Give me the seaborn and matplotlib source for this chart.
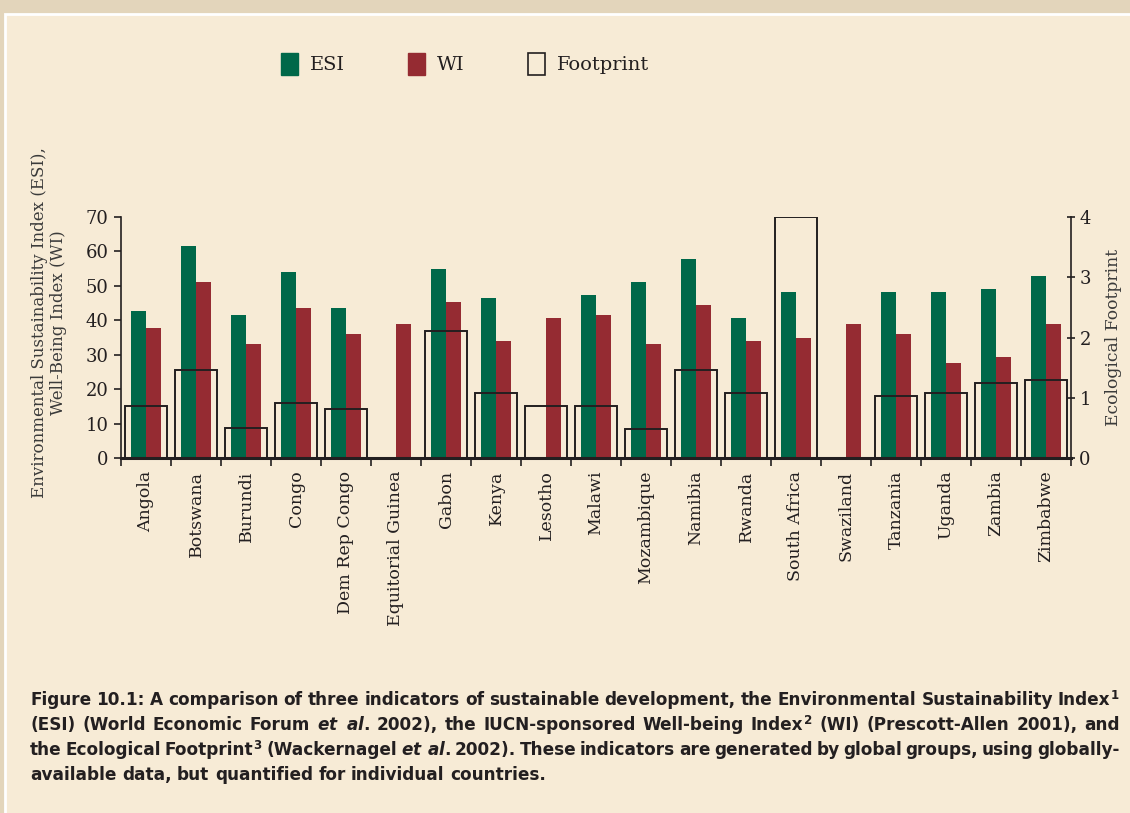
import numpy as np
import pandas as pd
import matplotlib
matplotlib.use("Agg")
import matplotlib.pyplot as plt
from matplotlib.patches import Patch, Rectangle
import seaborn as sns

# --- Data ---
countries = ["Angola", "Botswana", "Burundi", "Congo", "Dem Rep Congo",
             "Equitorial Guinea", "Gabon", "Kenya", "Lesotho", "Malawi",
             "Mozambique", "Namibia", "Rwanda", "South Africa", "Swaziland",
             "Tanzania", "Uganda", "Zambia", "Zimbabwe"]
esi = [42.7, 61.5, 41.4, 53.9, 43.5, np.nan, 54.8, 46.4, np.nan, 47.2,
       51.0, 57.7, 40.6, 48.1, np.nan, 48.1, 48.1, 49.0, 52.8]
wi = [37.7, 51.0, 33.0, 43.5, 35.9, 38.8, 45.2, 33.9, 40.6, 41.4,
      33.0, 44.3, 33.9, 35.0, 38.8, 35.9, 27.5, 29.2, 38.8]
footprint = [0.86, 1.46, 0.49, 0.92, 0.81, np.nan, 2.10, 1.08, 0.86, 0.86,
             0.48, 1.46, 1.08, 4.0, np.nan, 1.03, 1.08, 1.24, 1.29]

# caption words are split on spaces, so italic "et al." is two math words
caption = [
    r"Figure 10.1: A comparison of three indicators of sustainable development, the Environmental Sustainability Index$^{1}$",
    r"(ESI) (World Economic Forum $\mathit{et}$ $\mathit{al.}$ 2002), the IUCN-sponsored Well-being Index$^{2}$ (WI) (Prescott-Allen 2001), and",
    r"the Ecological Footprint$^{3}$ (Wackernagel $\mathit{et}$ $\mathit{al.}$ 2002). These indicators are generated by global groups, using globally-",
    r"available data, but quantified for individual countries.",
]

# --- Style ---
ESI_COLOR = "#006849"
WI_COLOR = "#952b32"
PANEL = "#f7ebd6"
OUTER = "#e3d5bb"
INK = "#231f20"
CAP_FONT = "DejaVu Sans"

sns.set_style("ticks")
plt.rcParams['font.family'] = ['DejaVu Serif']
plt.rcParams['mathtext.fontset'] = 'custom'
plt.rcParams['mathtext.rm'] = CAP_FONT + ':bold'
plt.rcParams['mathtext.it'] = CAP_FONT + ':bold:italic'
plt.rcParams['mathtext.bf'] = CAP_FONT + ':bold'
plt.rcParams['text.color'] = INK
plt.rcParams['axes.edgecolor'] = INK
plt.rcParams['xtick.color'] = INK
plt.rcParams['ytick.color'] = INK

W, H = 1130, 813
fig = plt.figure(figsize=(W / 100, H / 100), dpi=100, facecolor=OUTER)
fig.patches.append(Rectangle((5 / W, -0.01), 1.0, 1 - 14 / H + 0.01,
                             transform=fig.transFigure, facecolor=PANEL,
                             edgecolor="white", lw=2, zorder=-5))

ax = fig.add_axes([121 / W, 1 - 458 / H, 950 / W, 241 / H])
ax.set_facecolor("none")

# ESI / WI bars
df = pd.DataFrame({"country": countries, "ESI": esi, "WI": wi})
long = df.melt(id_vars="country", var_name="index", value_name="value").dropna()
sns.barplot(data=long, x="country", y="value", hue="index", order=countries,
            hue_order=["ESI", "WI"], palette=[ESI_COLOR, WI_COLOR],
            saturation=1, width=0.6, legend=False, ax=ax, errorbar=None,
            linewidth=0)
ax.set_ylim(0, 70)
ax.set_yticks(range(0, 71, 10))

# Footprint outlined boxes on secondary axis
ax2 = ax.twinx()
ax2.set_facecolor("none")
fp = pd.DataFrame({"country": countries, "footprint": footprint}).dropna()
sns.barplot(data=fp, x="country", y="footprint", order=countries, fill=False,
            color=INK, linewidth=1.4, width=0.83, ax=ax2, errorbar=None)
ax2.set_ylim(0, 4)
ax2.set_yticks(range(0, 5))

# x ticks at category boundaries, labels at centres
n = len(countries)
ax.set_xlim(-0.5, n - 0.5)
ax.set_xticks(np.arange(n + 1) - 0.5)
ax.set_xticklabels([])
ax.set_xticks(np.arange(n), minor=True)
ax.set_xticklabels(countries, minor=True, rotation=90, fontsize=12.5)
ax.tick_params(axis="x", which="major", length=6, width=1.2, direction="out")
ax.tick_params(axis="x", which="minor", length=0, pad=9)
ax.tick_params(axis="y", length=5, width=1.2, labelsize=13, pad=4)
ax2.tick_params(axis="y", length=6, width=1.2, labelsize=13, pad=3, direction="inout")

ax.set_xlabel("")
ax2.set_xlabel("")
ax.set_ylabel("Environmental Sustainability Index (ESI),\nWell-Being Index (WI)",
              fontsize=12, color="#3a3a3a", linespacing=1.15)
ax.yaxis.set_label_coords(-0.057, 0.56)
ax2.set_ylabel("Ecological Footprint", fontsize=12.3, color="#3a3a3a", labelpad=10)

for a in (ax, ax2):
    a.spines["top"].set_visible(False)
ax.spines["right"].set_visible(False)
ax2.spines["left"].set_visible(False)
ax2.spines["bottom"].set_visible(False)
ax.spines["bottom"].set_linewidth(2.2)
ax.spines["left"].set_linewidth(1.2)
ax2.spines["right"].set_linewidth(1.2)

# Legend at top
handles = [Patch(facecolor=ESI_COLOR, edgecolor=ESI_COLOR, label="ESI"),
           Patch(facecolor=WI_COLOR, edgecolor=WI_COLOR, label="WI"),
           Patch(facecolor="none", edgecolor=INK, linewidth=1.2, label="Footprint")]
fig.legend(handles=handles, loc="center left", bbox_to_anchor=(263 / W, 1 - 64 / H),
           ncol=3, frameon=False, fontsize=14, handlelength=0.9, handleheight=1.4,
           handletextpad=0.6, columnspacing=3.25)

# Caption, justified like the reference (last line left-aligned).
# A word like "Index$^{1}$" is drawn as plain text plus a superscript piece.
renderer = fig.canvas.get_renderer()
x0, x1 = 30, 1120
cap_kw = dict(fontsize=12.2, fontweight="bold", family=CAP_FONT,
              va="baseline", ha="left", color=INK)
for i, line in enumerate(caption):
    y = 1 - (705 + 25 * i) / H
    units = []
    for w in [w for w in line.split(" ") if w]:
        if "$^" in w and not w.startswith("$"):
            k = w.index("$^")
            pieces = [w[:k], w[k:]]
        else:
            pieces = [w]
        texts = [fig.text(0, y, p, **cap_kw) for p in pieces]
        widths = [t.get_window_extent(renderer).width for t in texts]
        units.append((texts, widths))
    total = sum(sum(ws) for _, ws in units)
    if i < len(caption) - 1:
        gap = (x1 - x0 - total) / (len(units) - 1)
    else:
        gap = 5.5
    x = x0
    for texts, widths in units:
        for t, w in zip(texts, widths):
            t.set_x(x / W)
            x += w
        x += gap

fig.savefig("out.png", dpi=100, facecolor=fig.get_facecolor())
